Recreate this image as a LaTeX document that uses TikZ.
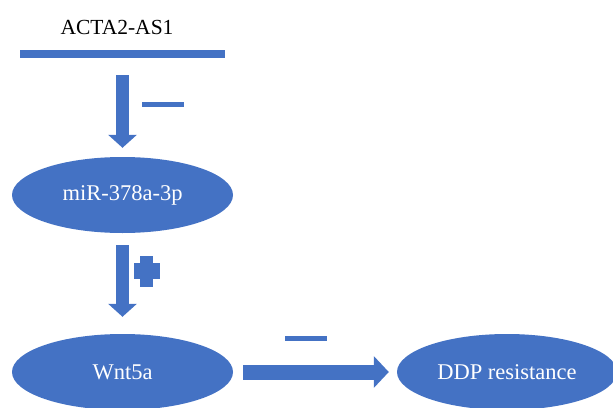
\documentclass[tikz,border=0pt]{standalone}
\usepackage{fontspec}
\setmainfont{Liberation Serif}
\newfontfamily\labelfont{Liberation Serif}
\usetikzlibrary{shapes.geometric,arrows.meta}
\definecolor{officeblue}{HTML}{4472C4}
\tikzset{
  blob/.style={ellipse, fill=officeblue, draw=none, inner sep=0pt,
    minimum width=221pt, minimum height=76pt, text=white,
    font=\labelfont\fontsize{22.5}{24}\selectfont},
  bar/.style={rectangle, fill=officeblue, draw=none, inner sep=0pt},
  fatarrow/.style={draw=officeblue, line width=#1},
  vtip/.style={-{Triangle[length=13pt,width=28pt]}},
  htip/.style={-{Triangle[length=15pt,width=31pt]}},
}
\begin{document}
\begin{tikzpicture}[x=1pt,y=-1pt]
  \useasboundingbox (0,0) rectangle (613,407);
  \clip (0,0) rectangle (613,407);

  % top inhibitor element
  \node[font=\labelfont\fontsize{21.5}{24}\selectfont] (lnc) at (117,27) {ACTA2-AS1};
  \node[bar, minimum width=205pt, minimum height=8pt] (lncbar) at (122.5,54) {};

  % pathway ellipses
  \node[blob] (mir) at (122.5,195) {miR-378a-3p};
  \node[blob] (wnt) at (122.5,372) {Wnt5a};
  \node[blob, minimum width=220pt] (ddp) at (507,372) {DDP resistance};

  % block arrows between stages
  \draw[fatarrow=13pt, vtip, shorten <=17pt, shorten >=9pt]
    (lncbar.south) -- (mir.north);
  \draw[fatarrow=13pt, vtip, shorten <=12pt, shorten >=17pt]
    (mir.south) -- (wnt.north);
  \draw[fatarrow=15pt, htip, shorten <=10pt, shorten >=8pt]
    (wnt.east) -- (ddp.west);

  % regulation signs
  \node[bar, minimum width=42pt, minimum height=5.5pt] (minusA) at (163,104.5) {};
  \node[bar, minimum width=42pt, minimum height=5pt] (minusB) at (306,338.5) {};
  \node[bar, minimum width=13pt, minimum height=31pt] (plusV) at (146.5,271.5) {};
  \node[bar, minimum width=26pt, minimum height=16pt] (plusH) at (147,271) {};
\end{tikzpicture}
\end{document}
